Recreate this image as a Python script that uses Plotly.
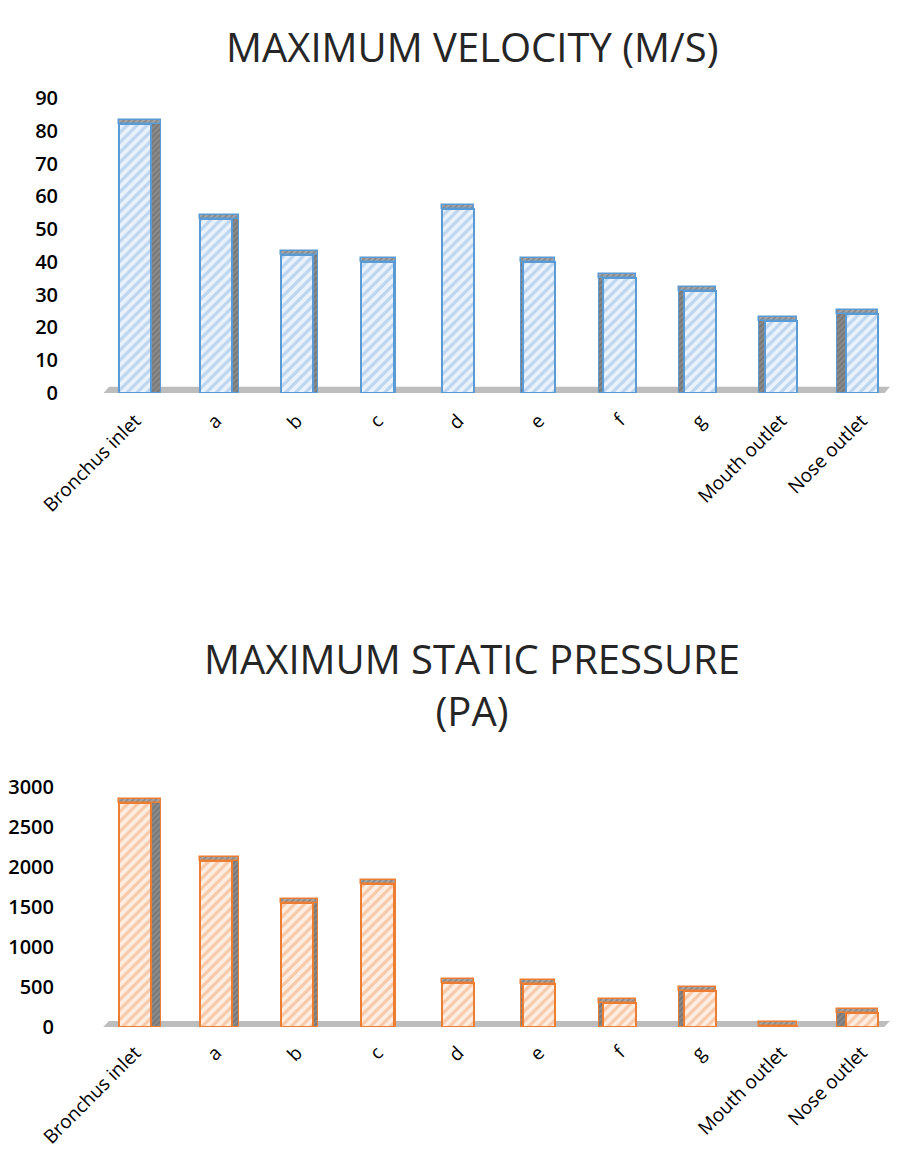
import plotly.graph_objects as go

# ---- data ----
categories = ["Bronchus inlet", "a", "b", "c", "d", "e", "f", "g", "Mouth outlet", "Nose outlet"]
max_velocity = [82, 53, 42, 40, 56, 40, 35, 31, 22, 24]            # m/s
max_static_pressure = [2800, 2080, 1550, 1790, 550, 540, 300, 450, 10, 175]  # Pa
velocity_ticks = [0, 10, 20, 30, 40, 50, 60, 70, 80, 90]
pressure_ticks = [0, 500, 1000, 1500, 2000, 2500, 3000]

# ---- styling ----
W, H = 906, 1157
FONT = "Open Sans"
BAR_W = 0.4
# visible depth of each column's side face (category units) and which side shows
side_depth = [0.12, 0.085, 0.06, 0.035, 0.0, 0.025, 0.05, 0.06, 0.075, 0.1]
side_right = [True, True, True, True, True, False, False, False, False, False]
side_offset = [BAR_W / 2 if r else -BAR_W / 2 - d for d, r in zip(side_depth, side_right)]
cap_offset = [-BAR_W / 2 if r else -BAR_W / 2 - d for d, r in zip(side_depth, side_right)]
cap_width = [BAR_W + d for d in side_depth]

x_domain = [95 / W, 902 / W]
top_domain = [1 - 393 / H, 1 - 98 / H]
bot_domain = [1 - 1027 / H, 1 - 787 / H]

fig = go.Figure()


def add_columns(values, xa, ya, face, stripe, edge, cap_h):
    hatch_dark = dict(shape="/", fgcolor="#5a5a5a", size=4, solidity=0.35)
    # side faces of the 3D columns
    fig.add_trace(go.Bar(
        x=categories, y=values, xaxis=xa, yaxis=ya,
        width=side_depth, offset=side_offset,
        marker=dict(color="#8a8a8a", pattern=hatch_dark, line=dict(color=edge, width=1)),
        showlegend=False, hoverinfo="skip"))
    # top faces sitting on each column
    fig.add_trace(go.Bar(
        x=categories, y=[cap_h] * len(values), base=values, xaxis=xa, yaxis=ya,
        width=cap_width, offset=cap_offset,
        marker=dict(color="#a6a6a6", pattern=hatch_dark, line=dict(color=edge, width=1.5)),
        showlegend=False, hoverinfo="skip"))
    # front faces
    fig.add_trace(go.Bar(
        x=categories, y=values, xaxis=xa, yaxis=ya,
        width=BAR_W,
        marker=dict(color=face,
                    pattern=dict(shape="/", fgcolor=stripe, bgcolor=face, size=7, solidity=0.45),
                    line=dict(color=edge, width=2)),
        showlegend=False))


add_columns(max_velocity, "x", "y", "#eaf2fb", "#8fb8e3", "#5b9bd5", 1.3)
add_columns(max_static_pressure, "x2", "y2", "#fdeee3", "#f2a36e", "#ed7d31", 50)

axis_font = dict(family=FONT, size=19, color="#000000")
ytick_font = dict(family=FONT, size=20, color="#000000", weight=600)

fig.update_layout(
    width=W, height=H,
    margin=dict(l=0, r=0, t=0, b=0),
    paper_bgcolor="white", plot_bgcolor="rgba(0,0,0,0)",
    barmode="overlay", bargap=0,
    font=dict(family=FONT, color="#000000"),
    xaxis=dict(domain=x_domain, anchor="y", type="category", tickangle=-45,
               showgrid=False, zeroline=False, showline=False, ticks="",
               tickfont=axis_font, automargin=False, ticklabelstandoff=12),
    yaxis=dict(domain=top_domain, anchor="x", range=[0, 90], tickvals=velocity_ticks,
               showgrid=False, zeroline=False, showline=False, ticks="",
               tickfont=ytick_font, automargin=False, ticklabelstandoff=36),
    xaxis2=dict(domain=x_domain, anchor="y2", type="category", tickangle=-45,
                showgrid=False, zeroline=False, showline=False, ticks="",
                tickfont=axis_font, automargin=False, ticklabelstandoff=10),
    yaxis2=dict(domain=bot_domain, anchor="x2", range=[0, 3000], tickvals=pressure_ticks,
                showgrid=False, zeroline=False, showline=False, ticks="",
                tickfont=ytick_font, automargin=False, ticklabelstandoff=40),
)

# grey floor under each set of columns
for yref, lo, hi in (("y", -1.3, 1.9), ("y2", -40, 75)):
    fig.add_shape(type="path", xref="paper", yref=yref, layer="below",
                  path=f"M {100 / W},{lo} L {109 / W},{hi} L {890 / W},{hi} L {881 / W},{lo} Z",
                  fillcolor="#bdbdbd", line=dict(width=0))

title_font = dict(family=FONT, size=40, color="#262626")
fig.add_annotation(text="MAXIMUM VELOCITY (M/S)", xref="paper", yref="paper",
                   x=472 / W, y=1 - 46 / H, yanchor="middle", showarrow=False, font=title_font)
fig.add_annotation(text="MAXIMUM STATIC PRESSURE<br>(PA)", xref="paper", yref="paper",
                   x=472 / W, y=1 - 684 / H, yanchor="middle", showarrow=False, font=title_font)

fig.write_html("out.html")
